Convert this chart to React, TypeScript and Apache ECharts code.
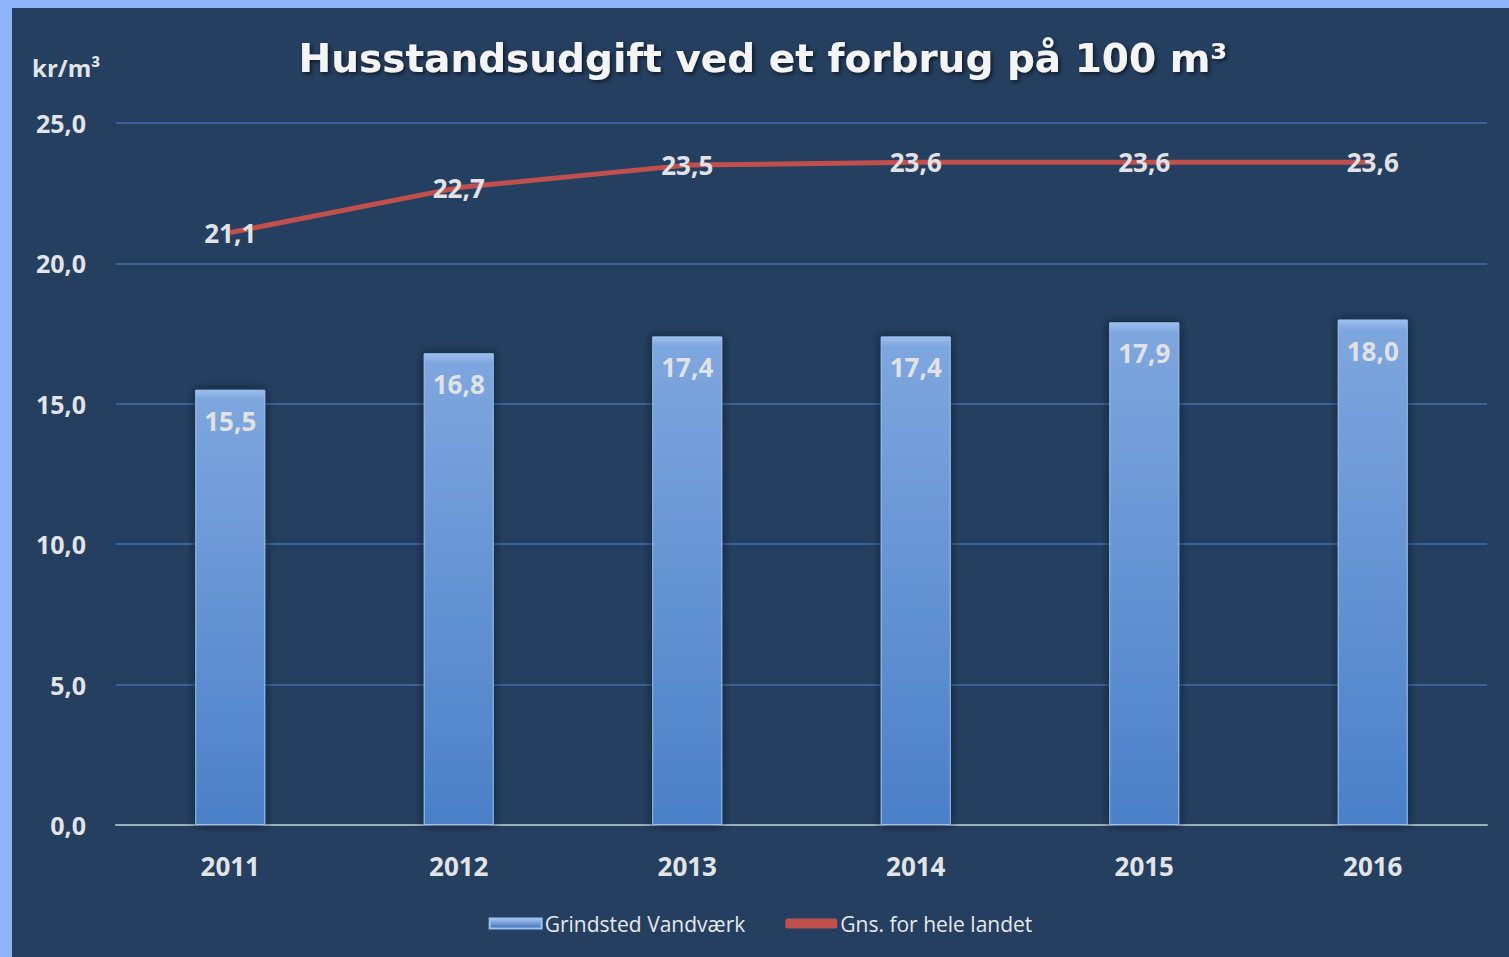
import React, { useEffect, useRef } from "react";
import * as echarts from "echarts";

const years = ["2011", "2012", "2013", "2014", "2015", "2016"];
const grindsted = [15.5, 16.8, 17.4, 17.4, 17.9, 18.0];
const landet = [21.1, 22.7, 23.5, 23.6, 23.6, 23.6];
const barName = "Grindsted Vandværk";
const lineName = "Gns. for hele landet";
const titleText = "Husstandsudgift ved et forbrug på 100 m³";
const unitText = "kr/m³";

const fmt = (v: number) => v.toFixed(1).replace(".", ",");

export default function App() {
  const ref = useRef<HTMLDivElement>(null);
  useEffect(() => {
    if (!ref.current) return;
    const chart = echarts.init(ref.current, undefined, { renderer: "svg" });
    const font = "Open Sans";
    chart.setOption({
      animation: false,
      backgroundColor: "#253f60",
      title: {
        text: titleText,
        left: 746,
        top: 26,
        textAlign: "center",
        textStyle: {
          color: "#f4f4f4",
          fontFamily: "DejaVu Sans",
          fontWeight: "bold",
          fontSize: 39,
          textShadowColor: "rgba(0,0,0,0.6)",
          textShadowBlur: 4,
          textShadowOffsetX: 2,
          textShadowOffsetY: 2,
        },
      },
      grid: { left: 104, right: 22, top: 115, bottom: 132 },
      legend: {
        bottom: 18,
        left: "center",
        itemGap: 40,
        itemWidth: 52,
        itemHeight: 10,
        textStyle: { color: "#e6e8ec", fontFamily: font, fontSize: 21, padding: [0, 0, 0, -2] },
        data: [
          {
            name: barName,
            icon: "rect",
            itemStyle: {
              color: new echarts.graphic.LinearGradient(0, 0, 0, 1, [
                { offset: 0, color: "#a9c8f2" },
                { offset: 0.5, color: "#6f9ad8" },
                { offset: 1, color: "#3f6fb3" },
              ]),
              opacity: 1,
            },
          },
          { name: lineName, icon: "roundRect", itemStyle: { color: "#c0504d", opacity: 1 } },
        ],
      },
      xAxis: {
        type: "category",
        data: years,
        axisLine: { lineStyle: { color: "#a3abb8", width: 2 } },
        axisTick: { show: false },
        axisLabel: {
          color: "#e2e4e8",
          fontFamily: font,
          fontWeight: "bold",
          fontSize: 26,
          margin: 28,
        },
      },
      yAxis: {
        type: "value",
        min: 0,
        max: 25,
        interval: 5,
        name: unitText,
        nameLocation: "end",
        nameGap: 44,
        nameTextStyle: {
          color: "#e2e4e8",
          fontFamily: font,
          fontWeight: "bold",
          fontSize: 24,
          align: "left",
          padding: [0, 0, 0, -84],
        },
        axisLine: { show: false },
        axisTick: { show: false },
        splitLine: { lineStyle: { color: "#3b6496", width: 2 } },
        axisLabel: {
          color: "#e2e4e8",
          fontFamily: font,
          fontWeight: "bold",
          fontSize: 25,
          margin: 30,
          formatter: (v: number) => fmt(v),
        },
      },
      series: [
        {
          name: barName,
          type: "bar",
          data: grindsted,
          barWidth: 70,
          itemStyle: {
            color: new echarts.graphic.LinearGradient(0, 0, 0, 1, [
              { offset: 0, color: "#9cbfee" },
              { offset: 0.02, color: "#7ea6de" },
              { offset: 1, color: "#4a80c8" },
            ]),
            borderColor: "#9cc0ef",
            borderWidth: 1,
            shadowColor: "rgba(10,20,40,0.8)",
            shadowBlur: 10,
          },
          label: {
            show: true,
            position: "insideTop",
            distance: 18,
            color: "#e0e2e6",
            fontFamily: font,
            fontWeight: "bold",
            fontSize: 26,
            formatter: (p: any) => fmt(p.value),
          },
        },
        {
          name: lineName,
          type: "line",
          data: landet,
          symbol: "circle",
          symbolSize: 1,
          itemStyle: { color: "#c0504d", opacity: 0 },
          lineStyle: { color: "#c0504d", width: 5 },
          label: {
            show: true,
            position: "inside",
            color: "#e0e2e6",
            fontFamily: font,
            fontWeight: "bold",
            fontSize: 26,
            opacity: 1,
            formatter: (p: any) => fmt(p.value),
          },
          z: 3,
        },
      ],
    });
    return () => chart.dispose();
  }, []);
  return (
    <div
      style={{
        position: "absolute",
        left: 0,
        top: 0,
        width: 1509,
        height: 957,
        background: "#8db4fa",
      }}
    >
      <div
        ref={ref}
        style={{ position: "absolute", left: 12, top: 8, width: 1497, height: 949 }}
      />
    </div>
  );
}
